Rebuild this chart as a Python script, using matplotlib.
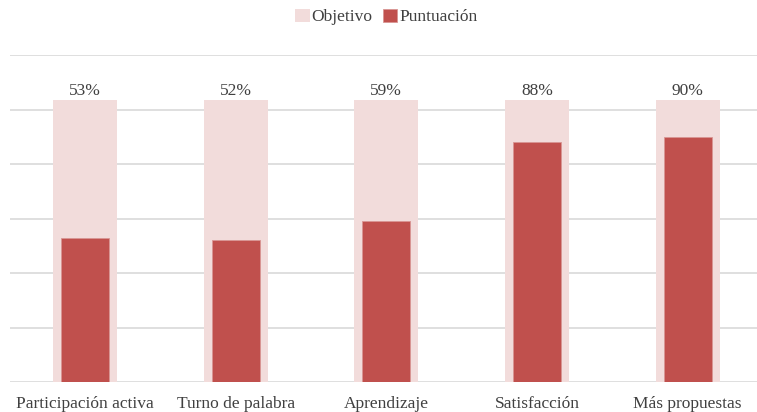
import numpy as np
import matplotlib.pyplot as plt

plt.rcParams['font.family'] = ['Liberation Serif', 'DejaVu Serif']

# datos
categorias = ['Participación activa', 'Turno de palabra', 'Aprendizaje', 'Satisfacción', 'Más propuestas']
puntuacion = [53, 52, 59, 88, 90]
objetivo = [103.5, 103.5, 103.5, 103.5, 103.5]
etiquetas = ['53%', '52%', '59%', '88%', '90%']

W, H = 757, 412
fig = plt.figure(figsize=(W / 100, H / 100), dpi=100)
# eje: izquierda 9.6 px, derecha 763 px, abajo 382 px, arriba 55 px
ax = fig.add_axes([9.6 / W, (H - 382) / H, (763 - 9.6) / W, (382 - 55) / H])

x = np.arange(len(categorias))
ax.bar(x, objetivo, width=0.425, color='#f2dcdb', label='Objetivo', zorder=2)
ax.bar(x, puntuacion, width=0.32, color='#c0504d', edgecolor='#d99694', linewidth=0.6,
       label='Puntuación', zorder=3)

for xi, yi, t in zip(x, objetivo, etiquetas):
    ax.text(xi, yi + 0.5, t, ha='center', va='bottom', fontsize=12.5, color='#404040', zorder=4)

ax.set_xlim(-0.5, len(categorias) - 0.5)
ax.set_ylim(0, 120)
ax.set_yticks(np.arange(0, 121, 20))
ax.yaxis.grid(True, color='#d9d9d9', linewidth=1.2, zorder=0)
ax.set_axisbelow(True)
ax.tick_params(axis='y', left=False, labelleft=False)
ax.tick_params(axis='x', length=0, pad=10, labelsize=12.5, labelcolor='#404040')
ax.set_xticks(x)
ax.set_xticklabels(categorias)
for s in ax.spines.values():
    s.set_visible(False)

fig.legend(loc='center', bbox_to_anchor=(0.51, 1 - 17 / H), ncol=2, frameon=False,
           fontsize=12.5, handlelength=0.85, handleheight=0.85, handletextpad=0.1,
           columnspacing=0.6, labelcolor='#404040')

fig.savefig('out.png', dpi=100)
